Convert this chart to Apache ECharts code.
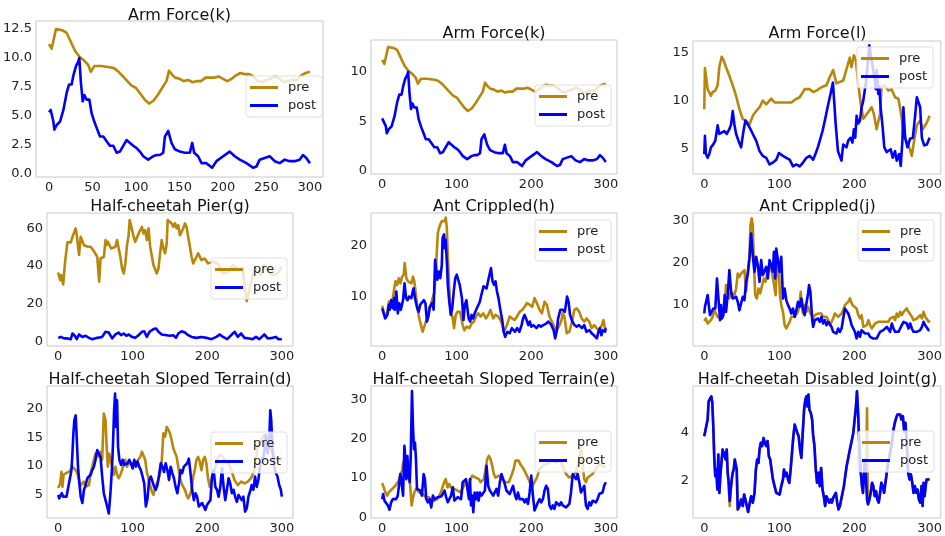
<!DOCTYPE html>
<html><head><meta charset="utf-8">
<script src="https://cdn.jsdelivr.net/npm/echarts@6/dist/echarts.min.js"></script>
<style>html,body{margin:0;padding:0;background:#fff}#c{width:945px;height:536px}</style>
</head><body><div id="c"></div>
<script>
// ---------- tick labels ----------
const xTicksFine = [0, 50, 100, 150, 200, 250, 300];
const xTicks = [0, 100, 200, 300];
const yTicksArmK1 = [0, 2.5, 5, 7.5, 10, 12.5];
const yTicksArmK2 = [0, 5, 10];
const yTicksArmL = [5, 10, 15];
const yTicksPier = [0, 20, 40, 60];
const yTicksAntH = [10, 20];
const yTicksAntJ = [10, 20, 30];
const yTicksSlopeD = [5, 10, 15, 20];
const yTicksSlopeE = [0, 10, 20, 30];
const yTicksJoint = [2, 4];
const seriesNames = ['pre', 'post'];

// ---------- data: [step, value] ----------
const armK_pre = [[0,11.2],[3,10.8],[8,12.5],[15,12.4],[20,12.2],[25,11.4],[30,10.6],[35,10.1],[40,9.8],[45,9.4],[48,8.8],[52,9.3],[60,9.3],[70,9.2],[75,9.1],[80,8.8],[85,8.4],[90,8.0],[95,7.6],[100,7.4],[105,6.9],[110,6.4],[115,6.05],[120,6.3],[125,6.8],[130,7.4],[135,8.0],[138,8.9],[142,8.5],[145,8.3],[150,8.2],[155,8.0],[160,8.1],[165,7.9],[170,8.0],[175,8.0],[180,8.3],[185,8.3],[190,8.3],[195,8.4],[200,8.2],[205,8.0],[210,8.2],[215,8.5],[220,8.7],[225,8.6],[230,8.6],[235,8.4],[240,8.0],[245,7.9],[250,8.1],[255,8.2],[260,8.4],[265,8.2],[270,7.9],[275,8.0],[280,8.1],[285,8.1],[290,8.5],[295,8.7],[300,8.8]];
const armK_post = [[0,5.3],[1.9,5.5],[5,4.5],[6.1,3.8],[8.8,4.2],[12.6,4.5],[16.5,5.5],[20.3,7.0],[23,7.7],[26,7.7],[28,8.5],[31,9.3],[33.7,9.7],[34.8,10.0],[36.7,7.8],[38.7,6.25],[40.6,6.8],[43.2,6.4],[46.3,6.4],[49,5.2],[52,4.5],[55.5,3.8],[58.6,3.2],[62.4,3.2],[66.2,2.8],[70,2.4],[73.9,2.4],[77.7,1.8],[81.5,1.9],[85.3,2.4],[89.2,2.9],[93,2.65],[96.8,2.4],[100.7,2.2],[104.5,1.9],[108.3,1.5],[114,1.2],[119.8,1.5],[123.6,1.6],[127.4,1.6],[131.3,1.8],[133.2,3.2],[137,3.7],[138.9,3.8],[140.8,2.65],[144.7,2.1],[150.4,1.9],[156.1,1.8],[161.9,1.8],[164.6,2.65],[166.9,1.8],[171.4,1.5],[175.3,0.9],[181,0.9],[187.5,0.5],[192.5,1.07],[200.2,1.5],[207.8,1.9],[213.5,1.5],[219.3,1.2],[227,0.9],[234.6,0.5],[238.4,0.6],[242.2,1.2],[248,1.35],[253.7,1.5],[259.5,1.07],[265.2,0.9],[271,1.2],[276.7,1.07],[282.4,1.07],[288.2,1.2],[292,1.6],[295.8,1.35],[300,0.9]];

const armL_pre = [[0,9.1],[0.9,13.4],[4.5,11.2],[6.7,11.05],[8.9,10.5],[11.1,10.9],[14.7,11.05],[17.8,11.6],[20,13.5],[23.2,14.6],[25.9,14.2],[29,13.5],[33.4,12.6],[37.9,11.6],[42.4,10.5],[46.8,9.1],[51.3,8.05],[55.7,7.9],[60.2,7.5],[64.6,8.4],[69.1,8.9],[73.6,9.3],[78,10],[82.5,9.6],[89.2,10.2],[93.6,9.8],[100.3,9.8],[109.2,9.8],[115.9,9.8],[122.6,10.2],[127.1,10.35],[133.7,11.2],[140.4,11.2],[144.9,10.9],[149.4,11.05],[156,11.4],[162.7,11.6],[167.2,12.5],[171.6,13.2],[176,11.8],[185,12.1],[191.6,13.9],[193.8,14.5],[196,13.5],[199.2,14.75],[201.8,14.2],[205,11.8],[208.3,9.65],[211.8,8.1],[218.4,8.8],[222.8,9.3],[225.8,8.6],[229.5,7.0],[231.7,6.85],[233.9,8.6],[236.1,11.4],[240.5,11.6],[245,11.05],[249.4,11.2],[254,10.35],[258.5,10.2],[261.6,8.8],[265,7.0],[268.7,5.8],[271.8,5.4],[276.3,4.2],[279.4,5.8],[283,7.4],[287.4,7.9],[291,7.0],[296.4,7.7],[300,8.4]];
const armL_post = [[0,4.4],[0.9,6.3],[2.2,4.4],[4.5,4.0],[6.7,4.4],[8.9,5.1],[12,5.4],[14.7,5.8],[17.8,7.4],[20,6.5],[22.3,6.7],[26.7,6.8],[29.9,6.5],[33.4,7.0],[35.7,7.5],[37.9,8.9],[40.1,7.5],[42.4,6.5],[45.5,5.8],[49,5.1],[52.2,6.8],[54.8,7.9],[58,7.5],[61.5,7.0],[64.6,6.5],[69.1,5.8],[73.6,4.7],[78,4.2],[82.5,4.0],[86.9,3.3],[91.4,3.5],[95.9,3.8],[99.4,4.5],[104.8,4.2],[109.2,4.0],[113.7,3.8],[118.1,3.1],[122.6,3.3],[127.1,3.1],[131.5,3.5],[136,4.0],[140.4,4.2],[144.9,3.8],[148.5,4.5],[151.6,5.2],[153.8,5.8],[157.4,6.8],[160.5,7.9],[165,9.6],[168.1,10.7],[171.3,11.9],[175,7.5],[178,4.7],[182.7,3.7],[185,5.4],[189.4,5.1],[191.6,5.8],[194.7,6.1],[197.3,5.6],[199.2,7.0],[201,6.1],[202.8,8.4],[205,7.6],[207.3,7.9],[209.5,9.3],[211.7,10],[215.2,11.9],[217,13.35],[219.7,15.8],[222.8,14.2],[225.8,12.8],[228.3,11.2],[229.5,13.2],[231.7,10.7],[233,11.5],[234.8,9.3],[237.5,7.2],[239.7,5.1],[243,4.6],[245,4.7],[248.2,4.9],[250.9,4.0],[254,4.7],[256.3,3.7],[259.4,4.4],[261.6,3.15],[263.8,5.8],[265.1,9.3],[267.4,6.1],[270.5,5.1],[274,6.0],[277.7,6.1],[280.7,8.4],[283,10.35],[285.2,10.5],[287.4,9.3],[289.7,6.1],[292.8,5.3],[296.4,5.4],[300,6.1]];

const pier_pre = [[0,36.6],[2.7,32.6],[4,35.2],[6.7,30.3],[9.3,42.3],[12.4,52.5],[16.9,52.5],[20,56.3],[23.5,59.9],[24.9,56.3],[28,45.8],[30.2,55.5],[34.6,51],[39.9,50.2],[43.5,50.2],[47,48.4],[52.4,44.9],[55,31.7],[56.8,44],[61.3,44.9],[63.5,53.7],[64.8,51],[66.6,52.8],[71,49.3],[76.8,50.2],[79,53.7],[81.2,52.8],[83.4,44.9],[85.7,38.7],[87.9,36.1],[90.1,41.4],[92.3,51],[94.5,56.3],[95.9,64.3],[97.6,61.6],[101.2,55.5],[103.4,52.8],[107.9,57.2],[112.3,60.7],[114.5,57.2],[116.7,59],[119,53.7],[121.2,59.9],[123.4,50.2],[127.8,40.5],[132.3,36.1],[134.5,38.7],[136.7,46.7],[138.9,53.7],[141.1,49.3],[143.4,46.7],[145.6,51.9],[146.9,64.3],[152.2,62.5],[154.5,60.7],[156.7,62.5],[158.9,59.9],[161.1,61.6],[163.3,56.3],[167.8,59.9],[170,62.5],[172.2,60.7],[174.4,55.5],[176.7,50.2],[178.9,44.9],[181.1,41.4],[185.5,44.9],[187.8,46.7],[192.2,43.1],[196.6,44],[201.1,41.4],[207.7,42.3],[214.4,41.4],[221,36.1],[227.7,36.6],[234.4,40.5],[243.2,37.9],[247.7,38.7],[249.9,29.9],[253,21.5],[255.7,26.4],[258.8,31.7],[263.2,38.7],[267.7,37.9],[272.1,35.2],[276.5,40.5],[281,37],[287.6,35.2],[294.3,36.1],[300,39.6]];
const pier_post = [[0,2.1],[3.6,2.6],[8,1.8],[10.2,1.4],[12.4,1.8],[16.9,1.4],[19.1,4.4],[22.2,3.2],[24.9,1.4],[28,3.9],[32.4,2.6],[36.8,3.2],[41.3,2.1],[45.7,1.4],[52.4,2.1],[59,2.6],[63.5,5.3],[67.9,4.9],[72.4,1.8],[76.8,3.9],[81.2,4.9],[84.3,3.5],[87.9,4.4],[91.4,3.2],[94.5,3.9],[99,2.6],[103.4,2.1],[107.9,3.5],[112.3,5.3],[115.4,5.6],[118.9,2.6],[122.5,5.3],[127.8,6.7],[131.4,7.0],[134.5,5.3],[138.9,3.9],[145.6,3.5],[150,3.2],[154.5,3.5],[158,2.1],[161.1,4.4],[165.6,5.6],[170,4.9],[174.4,3.5],[178.9,2.6],[185.5,2.1],[192.2,2.6],[198.8,2.1],[205.5,1.4],[212.2,2.6],[216.6,3.9],[221,2.6],[226.8,1.4],[232.1,3.5],[236.6,5.3],[241,2.6],[245.4,4.4],[249.9,2.1],[256.5,1.8],[261,1.4],[265.4,2.6],[269.9,1.4],[276.5,3.9],[281,1.8],[287.6,2.1],[292.1,2.6],[295.7,1.4],[300,1.4]];

const antH_pre = [[0,8.2],[2.2,7.0],[4.4,6.1],[6.7,6.7],[8.9,9.0],[11.1,9.3],[13.3,8.7],[15.6,11],[17.8,13],[20,12.3],[22.2,13.6],[24.4,12.6],[26.7,13.9],[28.9,14.3],[30.2,16.6],[32.4,13.6],[34.7,13],[36.9,13.3],[39.1,12.6],[41.3,13.9],[43.1,13],[45.3,10.3],[47.6,7.4],[49.8,5.7],[52,4.4],[54.2,3.1],[56.4,4.1],[58.7,5.1],[60.9,6.1],[63.1,7.7],[65.3,8.4],[67.6,9.7],[69.8,10.7],[72,14.6],[73.3,18.9],[74.7,22.5],[76.4,23.5],[77.8,24.1],[80,24.8],[82.2,24.5],[84,24.8],[85.3,25.5],[86.7,23.5],[88,18.2],[89.8,12.3],[92,7.0],[94.2,6.1],[96.4,3.8],[98.7,6.4],[100.9,7.0],[104.4,7.0],[108,4.4],[110.2,3.4],[113.3,4.1],[116.9,3.8],[120,4.7],[123.1,5.1],[125.8,6.1],[128.9,6.7],[132,6.1],[135.6,6.7],[139.1,5.7],[142.2,6.4],[145.3,7.4],[148.9,5.7],[152,6.4],[155.6,6.1],[158.7,5.4],[161.3,4.4],[163.1,3.1],[165.8,3.8],[168.9,5.1],[171.1,6.1],[174.2,5.7],[177.8,5.4],[180.9,6.1],[184.4,7.0],[188,7.4],[191.1,8.0],[194.2,8.7],[197.8,8.4],[201.3,8.0],[204.4,9.7],[207.6,8.7],[211.1,7.4],[214.2,6.7],[217.8,9.0],[220.9,8.4],[224.4,6.1],[226.7,5.4],[229.8,4.4],[233.3,3.1],[236.9,4.1],[240,5.1],[242.2,6.7],[244.4,6.1],[247.6,2.8],[251.1,3.1],[254.7,5.1],[257.8,7.4],[260.9,7.7],[264.4,7.0],[267.6,5.7],[271.1,5.1],[274.2,5.7],[277.8,5.1],[280.9,3.8],[284.4,4.4],[287.6,3.8],[291.1,3.4],[294.7,4.4],[296.9,5.4],[298.7,3.8],[300,4.1]];
const antH_post = [[0,7.7],[2,6.7],[4,5.7],[7,6.4],[9,8.4],[10,7.4],[12,9.3],[14,7.7],[16,9.7],[17,7.4],[19,11],[21,6.7],[23,8.7],[25,7.4],[28,9.3],[30,12.6],[32,9.7],[34,9.3],[36,10],[39,9.7],[41,11],[42,11.6],[44,9.7],[47,7.7],[49,7.0],[51,8.4],[53,8.7],[56,9.3],[58,8.7],[60,5.1],[62,6.1],[64,8.0],[67,8.7],[69,7.4],[71,17.2],[72,15.9],[74,13.3],[76,14.9],[78,13.6],[80,16.2],[81,21.5],[83,22.2],[84,19.5],[85,21.2],[87,16.2],[88,12.3],[90,9.0],[92,6.4],[94,7.7],[96,11],[98,13.6],[100,14.3],[102,13.3],[104,12.3],[107,9.7],[109,5.4],[111,8.4],[113,9.3],[116,5.7],[118,5.1],[120,6.4],[122,5.7],[124,6.7],[127,7.7],[129,7.4],[131,9.0],[133,10.3],[136,12],[138,12.3],[140,11.6],[142,13],[144,14.3],[146,15.6],[148,13],[150,12.3],[152,13],[154,11],[156,9.7],[159,7.0],[161,5.4],[163,3.1],[165,2.1],[168,3.1],[171,2.8],[174,3.8],[178,3.1],[181,3.8],[184,3.1],[187,4.4],[189,5.7],[191,6.4],[193,5.7],[196,4.4],[198,5.1],[200,4.1],[203,4.4],[207,3.8],[210,4.4],[213,4.1],[216,4.4],[220,4.7],[223,5.1],[227,4.4],[230,3.4],[232,1.8],[234,3.1],[236,5.7],[239,7.4],[242,7.4],[245,7.0],[248,10],[250,9.0],[252,6.4],[255,5.1],[258,4.4],[261,4.1],[264,4.4],[268,3.8],[271,4.4],[274,3.1],[278,3.4],[281,2.8],[284,2.4],[288,1.8],[290,3.1],[292,3.8],[294,2.4],[296,3.4],[299,3.1],[300,3.8]];

const antJ_pre = [[0,6.0],[2.2,6.6],[4.5,5.4],[6.7,5.0],[8.9,6.2],[11.1,7.0],[13.4,8.6],[15.6,7.8],[17.8,7.0],[20.1,7.4],[22.3,6.6],[24.5,7.0],[26.7,8.2],[29,14.6],[31.2,13],[33.4,11.4],[35.7,13],[37.9,12.6],[40.1,12.2],[42.4,13.8],[44.6,17.4],[46.8,16.6],[49,17.4],[51.3,17.8],[53.5,18.2],[55.7,13],[58,17.8],[60.2,21.8],[61.5,29],[63.3,30.6],[64.6,29],[66,20.2],[67.8,12.2],[70,11.4],[72.2,13.8],[74.4,12.6],[77.1,14.6],[79.4,16.2],[81.6,15.4],[83.8,17.4],[86,17],[88.3,19],[90.5,17.4],[92.7,17],[95,12.2],[97.2,21.4],[99,19.4],[100.8,12.2],[102.5,9.8],[104.8,8.2],[107,5.0],[109.2,4.2],[111.5,5.0],[113.7,5.8],[115.9,7.0],[118.1,6.6],[120.4,7.0],[122.6,6.6],[124.8,8.2],[127.1,10.6],[128.4,13],[130.2,9],[131.5,7.8],[133.7,9.8],[136,8.2],[138.2,9.4],[140.4,8.2],[142.7,7.8],[144.9,6.6],[147.1,7.4],[149.3,7.0],[151.6,7.8],[153.8,8.2],[156,7.8],[158.3,7.0],[160.5,7.0],[162.7,7.0],[164.9,6.2],[167.2,5.0],[169.4,5.8],[171.6,6.6],[173.9,7.8],[176.1,8.2],[178.3,7.0],[180.6,7.4],[182.8,7.8],[185,8.6],[187.2,9.8],[189.5,10.2],[191.7,10.6],[193.9,11.4],[195.3,11.8],[197.5,9.8],[199.7,10.2],[202.8,9.0],[205.1,7.4],[207.3,6.6],[209.5,7.4],[211.8,4.6],[214,4.2],[216.2,5.0],[218.5,6.2],[220.7,5.0],[222.9,4.2],[225.1,4.6],[227.4,5.4],[229.6,5.0],[231.8,5.8],[234.1,5.4],[236.3,5.8],[238.5,5.4],[240.7,5.8],[243,6.2],[245.2,5.8],[247.4,6.6],[249.7,6.2],[251.9,7.0],[254.1,6.2],[256.3,7.8],[258.6,7.0],[260.8,8.2],[263,7.4],[265.3,8.2],[267.5,7.8],[269.7,9.0],[271.9,8.2],[274.2,7.8],[276.4,7.0],[278.6,6.2],[280.9,5.8],[283.1,6.6],[285.3,7.0],[287.5,7.4],[289.8,6.6],[292,8.2],[294.2,7.0],[296.5,6.6],[298.7,5.8],[300,6.2]];
const antJ_post = [[0,7.8],[0.9,9.4],[2.2,9],[4.5,12.2],[5.8,11.8],[7.6,7.4],[9.8,7.8],[12,9],[14.7,9],[16.9,16.2],[19.2,10.6],[21,6.2],[22.3,9.8],[23.6,6.6],[25.4,7.4],[27.2,12.2],[29,8.2],[31.2,12.2],[33.4,18.2],[35.7,13],[37.9,11.4],[40.1,11],[42.4,11.8],[44.6,10.6],[46.8,8.6],[49,10.2],[51.3,11.8],[53.5,11],[55.7,15.4],[58,17.4],[60.2,21],[62.4,27],[64.6,21.8],[66.9,17.8],[69.1,21.4],[71.3,19.4],[73.6,15.4],[75.8,20.6],[78,17],[80.2,16.6],[82.5,19],[84.7,16.2],[86.9,20.6],[89.2,19.4],[91.4,17.8],[92.7,22.6],[94.5,16.2],[95.8,23.4],[98.1,23.8],[100.3,17.8],[102.5,21.4],[104.8,11.4],[107,13.8],[109.2,11],[111.5,9.8],[113.7,9],[115.9,7.8],[118.1,9],[120.4,7],[122.6,8.6],[124.8,10.6],[127.1,9.4],[129.3,11.4],[131.5,9],[133.7,7.4],[136,10.2],[138.2,12.6],[139.5,14.6],[141.3,13],[143.6,6.6],[144.9,4.6],[147.1,6.2],[149.3,5.8],[151.6,6.6],[153.8,5.8],[156,7],[158.3,5.4],[160.5,6.2],[162.7,5],[164.9,5.8],[167.2,5.4],[169.4,4.6],[171.6,3.4],[173.9,3.8],[176.1,3],[178.3,4.2],[180.6,3.4],[182.8,4.2],[185,6.6],[187.2,9],[189.5,8.6],[191.7,7.8],[193.9,6.6],[196.2,5],[198.4,4.2],[200.6,3.4],[202.8,1.8],[205.1,3.4],[207.3,2.2],[209.5,3.8],[211.8,3.4],[214,3],[216.2,2.6],[218.5,3],[220.7,2.2],[222.9,2.6],[225.1,1.8],[227.4,2.2],[229.6,1.8],[231.8,2.6],[234.1,3.4],[236.3,3],[238.5,3.8],[240.7,4.2],[243,4.6],[245.2,4.2],[247.4,3.4],[249.7,5.4],[251.9,4.2],[254.1,3.4],[256.3,3.8],[258.6,3.4],[260.8,4.2],[263,5],[265.3,5.8],[267.5,6.2],[269.7,5.4],[271.9,4.2],[274.2,5.4],[276.4,4.2],[278.6,3.4],[283.1,3.4],[287.5,3.8],[289.8,4.6],[292,5.8],[294.2,5],[296.5,5.4],[298.7,3.8],[300,3.8]];

const slopeD_pre = [[0,6.2],[1.3,5.9],[2.7,7.0],[4.4,9.0],[5.8,6.4],[7.1,8.5],[8.9,8.2],[10.7,8.8],[12.4,8.5],[14.6,9.0],[16.9,9.3],[19.1,9.9],[21.3,10.2],[23.5,9.3],[25.7,8.8],[28,7.6],[30.2,6.7],[32.4,7.0],[34.6,7.3],[36.8,6.4],[39.1,6.2],[41.3,6.7],[43.5,8.8],[45.7,9.9],[47.9,11.1],[50.1,12.2],[52.4,12.5],[54.6,11.6],[56.8,12.5],[59,11.1],[61.2,19.1],[63.5,18],[64.8,13.9],[66.6,9.9],[68.3,12.2],[70.1,11.1],[72.3,9.9],[74.6,8.5],[76.8,9.9],[79,8.5],[81.2,7.9],[83.4,8.5],[85.7,9.3],[87.9,10.5],[90.1,11.1],[92.3,9.9],[94.5,10.5],[96.7,10.8],[99,10.2],[101.2,9.9],[103.4,10.2],[105.6,10.8],[107.8,11.1],[110.1,11.6],[112.3,12.5],[114.5,12.2],[116.7,11.1],[118.9,9.0],[121.2,7.9],[123.4,6.7],[125.6,5.6],[127.8,5.0],[130,6.2],[132.3,7.0],[134.5,7.6],[136.7,8.8],[138.9,10.8],[141.1,15.7],[143.3,15.1],[145.6,16.8],[147.8,16.3],[150,15.7],[152.2,14.5],[154.4,13.1],[156.7,12.8],[158.9,11.6],[161.1,9.9],[163.3,7.9],[165.5,7.0],[167.8,6.4],[170,5.9],[172.2,5.0],[174.4,4.4],[176.6,5.0],[178.9,5.9],[181.1,8.2],[183.3,9.3],[185.5,11.1],[187.7,11.6],[189.9,10.8],[192.2,9.3],[194.4,11.1],[196.6,11.6],[198.8,10.5],[201,7.9],[203.3,6.4],[205.5,7.6],[209.9,9.3],[214.4,11.6],[218.8,11.9],[223.2,11.1],[227.7,10.8],[232.1,9.3],[236.5,7.6],[241,6.7],[245.4,7.3],[249.9,7.0],[254.3,7.3],[258.7,7.9],[263.2,9.3],[267.6,13.4],[272.1,14.5],[276.5,15.4],[280.9,14.5],[285.4,12.8],[289.8,11.6],[294.2,11.1],[300,11.1]];
const slopeD_post = [[0,5.0],[1.3,4.4],[3.6,4.7],[4.9,5.3],[6.7,4.7],[8.9,5.0],[11.1,4.7],[13.3,6.2],[15.5,6.4],[17.8,9.3],[19.1,12.2],[20.4,15.7],[21.7,18],[23.5,18.8],[24.9,18.6],[26.6,9.9],[28.4,7.0],[30.2,4.7],[32.4,3.6],[34.6,5.9],[36.8,6.7],[39.1,7.9],[41.3,8.2],[43.5,8.5],[45.7,9.3],[47.9,9.9],[50.1,11.1],[52.4,12.8],[54.6,12.2],[56.8,11.6],[59,8.2],[61.2,5.3],[63.5,4.1],[65.7,3.0],[67.9,1.8],[70.1,5.3],[72.3,9.9],[73.7,14.5],[75,19.7],[76.3,22.6],[77.7,16.8],[79,21.4],[80.3,13.4],[82.1,11.1],[84.3,10.2],[86.5,11.1],[88.8,10.2],[91,9.9],[93.2,10.5],[95.4,11.1],[97.6,10.5],[99.9,9.6],[102.1,11.1],[104.3,9.9],[106.5,10.8],[108.7,9.9],[110.9,9.3],[113.2,8.2],[115.4,7.0],[117.6,3.0],[119.8,4.4],[122,7.6],[124.3,8.2],[126.5,7.3],[128.7,6.4],[130.9,5.9],[133.1,6.7],[135.4,8.5],[137.6,10.5],[139.8,9.9],[142,9.0],[144.2,10.5],[146.5,9.3],[148.7,7.6],[150.9,9.9],[153.1,8.8],[155.3,7.9],[157.5,6.4],[159.8,5.3],[162,7.0],[164.2,9.3],[166.4,8.8],[168.6,9.9],[170.9,9.9],[173.1,10.5],[175.3,11.3],[177.5,8.8],[179.7,5.9],[182,4.1],[184.2,5.3],[186.4,4.7],[188.6,3.0],[190.8,2.7],[193.1,3.6],[195.3,3.0],[197.5,2.4],[199.7,3.3],[201.9,3.0],[204.2,4.1],[206.4,8.2],[208.6,9.3],[210.8,6.4],[213,5.9],[215.2,4.7],[217.5,6.4],[219.7,9.6],[221.9,6.4],[224.1,4.1],[226.3,5.9],[228.6,7.9],[230.8,7.0],[233,5.3],[235.2,5.9],[237.4,4.7],[239.7,3.8],[241.9,5.0],[244.1,4.7],[246.3,4.1],[248.5,4.7],[250.7,2.1],[253,2.7],[255.2,4.7],[257.4,5.6],[259.6,6.7],[261.8,5.9],[264.1,8.2],[266.3,6.4],[268.5,7.6],[270.7,9.9],[272.9,11.1],[275.2,11.6],[277.4,13.4],[278.7,15.4],[280.9,12.2],[283.2,14.5],[284.5,19.7],[285.8,18],[287.6,12.8],[289.8,9.9],[292,8.8],[294.2,8.2],[296.5,6.7],[298.7,5.9],[300,4.7]];

const slopeE_pre = [[0,8.7],[2.2,8.5],[4.4,6.3],[6.7,5.5],[8.9,6.3],[11.1,6.8],[13.3,7.2],[15.6,7.6],[17.8,8.0],[20,8.5],[22.2,9.3],[24.4,11],[26.7,11.8],[28,13.9],[29.8,11.8],[31.6,14.4],[33.3,10.6],[35.1,13.1],[36.9,9.7],[38.2,6.3],[39.6,3.0],[40.9,4.6],[43.1,6.3],[45.3,7.2],[47.6,6.8],[49.8,6.3],[52,5.9],[54.2,5.9],[56.4,5.5],[58.7,5.1],[60.9,4.8],[63.1,5.1],[65.3,4.2],[67.6,4.6],[69.8,4.2],[72,4.6],[74.2,4.6],[76.4,5.1],[78.7,6.3],[80.9,7.6],[83.1,8.9],[85.3,9.7],[87.6,7.6],[89.8,8.5],[92,7.6],[94.2,8.0],[96.4,7.2],[98.7,7.6],[100.9,6.8],[103.1,7.2],[105.3,6.3],[107.6,6.8],[109.8,8.0],[112,8.9],[114.2,9.3],[116.4,8.5],[118.7,9.7],[120.9,10.6],[123.1,11],[125.3,10.1],[127.6,10.6],[129.8,9.7],[132,8.9],[134.2,9.3],[136.4,9.7],[138.7,12.3],[140.9,14.8],[143.1,15.6],[145.3,14.8],[147.6,13.1],[149.8,11],[152,10.1],[154.2,9.7],[156.4,10.6],[158.7,10.1],[160.9,9.7],[163.1,9.3],[165.3,8.9],[167.6,8.9],[169.8,8.9],[172,9.3],[174.2,11],[176.4,12.3],[178.7,14.4],[180.9,13.9],[183.1,14.4],[185.3,13.5],[187.6,13.1],[189.8,12.3],[192,11.4],[194.2,11],[196.4,9.7],[198.7,8.5],[200.9,7.6],[203.1,8.5],[205.3,9.3],[207.6,10.1],[211.1,12.3],[215.6,13.1],[220,13.5],[224.4,13.9],[228.9,14.4],[233.3,13.9],[237.8,14.4],[242.2,13.1],[246.7,11],[251.1,10.1],[255.6,10.6],[260,11.4],[264.4,14.8],[266.7,17.7],[268.9,13.1],[271.1,9.7],[273.3,8.9],[275.6,10.1],[277.8,10.6],[282.2,11],[286.7,12.3],[291.1,13.5],[295.6,13.1],[300,12.7]];
const slopeE_post = [[0,4.6],[1.3,5.9],[3.1,4.2],[5.3,4.6],[7.6,3.0],[9.8,1.9],[12,3.8],[14.2,4.6],[16.4,5.1],[18.7,4.6],[20.9,5.5],[23.1,5.1],[24.4,11],[26.2,8.5],[28,5.5],[29.8,18.2],[31.1,14.8],[32.4,9.7],[33.8,15.6],[35.1,11.4],[36.9,8.9],[38.2,14.8],[40,32.1],[41.3,23.2],[42.7,17.3],[44,19],[45.3,14.8],[46.7,7.2],[48.9,7.6],[51.1,6.8],[53.3,5.5],[55.6,11],[57.3,9.7],[59.1,4.6],[61.3,3.8],[63.6,4.6],[65.8,2.5],[68,5.5],[70.2,4.6],[72.4,5.1],[74.7,5.1],[76.9,5.5],[79.1,5.3],[81.3,5.9],[83.6,6.8],[85.8,5.1],[88,3.8],[90.2,4.2],[92.4,5.5],[94.7,7.6],[96.9,4.2],[99.1,3.8],[101.3,5.1],[103.6,5.5],[105.8,4.6],[108,8.9],[110.2,9.3],[112.4,9.7],[114.7,10.1],[116.4,4.6],[117.8,9.7],[119.1,3.0],[120.9,5.5],[122.2,1.3],[124,6.3],[125.8,4.6],[127.6,6.3],[129.3,4.2],[131.1,6.3],[133.3,5.5],[135.6,5.1],[137.8,6.8],[140,13.1],[142.2,8.0],[144.4,6.8],[146.7,6.3],[148.9,5.5],[151.1,5.9],[153.3,7.2],[155.6,5.5],[157.8,8.9],[160,11],[162.2,10.6],[164.4,8.5],[166.7,6.8],[168.9,7.2],[171.1,5.9],[173.3,6.3],[175.6,8.0],[177.8,5.9],[180,4.6],[182.2,6.3],[184.4,4.6],[186.7,4.2],[188.9,4.6],[191.1,3.8],[193.3,4.6],[195.6,3.4],[197.8,6.3],[200,10.6],[202.2,5.5],[204.4,1.7],[206.7,1.3],[208.9,3.8],[211.1,4.6],[213.3,3.8],[215.6,4.6],[217.8,6.8],[220,8.0],[222.2,7.2],[224.4,3.0],[226.7,2.1],[228.9,3.0],[231.1,2.1],[233.3,3.8],[235.6,4.2],[237.8,3.0],[240,3.8],[242.2,3.0],[244.4,3.4],[246.7,2.5],[248.9,3.0],[251.1,3.4],[253.3,6.3],[255.6,11],[257.8,11.4],[260,9.7],[262.2,11],[264.4,8.9],[266.7,6.3],[268.9,6.8],[271.1,8.0],[273.3,3.0],[275.6,2.1],[277.8,3.8],[280,3.0],[282.2,4.2],[284.4,4.2],[286.7,3.8],[288.9,4.6],[291.1,5.9],[293.3,5.5],[295.6,6.3],[297.8,8.0],[300,8.9]];

const joint_pre = [[0,3.83],[1.3,4.04],[3.1,4.11],[4.5,4.53],[5.8,5.29],[7.6,5.36],[9.4,5.5],[10.7,5.22],[12,4.25],[13.4,2.86],[14.7,2.17],[16.1,2.44],[17.4,1.61],[18.7,3.07],[20.1,1.47],[21.4,2.17],[23.2,2.86],[24.5,3.28],[25.9,3.0],[27.2,3.14],[28.5,2.86],[29.9,3.28],[31.2,2.31],[32.5,1.89],[33.9,0.92],[35.2,1.61],[36.6,2.03],[37.9,2.31],[39.2,2.44],[40.6,2.86],[41.9,2.93],[43.2,2.44],[44.6,0.78],[46.8,0.92],[49,1.19],[51.3,0.92],[53.1,1.4],[54.8,1.19],[56.6,0.92],[58.4,0.67],[60.2,0.99],[62.4,1.33],[64.6,1.06],[66.9,1.47],[68.7,2.44],[70.4,2.86],[72.2,2.72],[73.6,3.28],[75.3,3.56],[77.1,3.42],[78.9,3.76],[80.7,3.56],[82.5,3.42],[84.3,3.63],[86,3.0],[87.8,2.86],[89.6,2.44],[91.4,2.03],[93.6,1.75],[95.9,1.47],[98.1,1.47],[100.3,1.4],[102.5,1.75],[104.8,2.03],[106.1,2.44],[107.9,2.17],[109.7,2.31],[111.5,2.03],[113.2,1.89],[115,2.44],[116.8,3.14],[118.6,3.83],[120.4,4.32],[122.2,4.39],[123.9,3.97],[125.7,3.83],[127.5,3.28],[129.3,2.93],[131.1,3.97],[132.9,4.94],[134.6,5.36],[136,5.5],[137.3,5.08],[138.7,5.57],[140,4.94],[141.8,4.81],[143.6,4.53],[144.9,3.9],[146.7,3.42],[148.5,2.44],[150.2,1.89],[152,2.31],[153.8,1.75],[155.6,2.51],[157.4,1.61],[159.2,1.33],[160.9,0.92],[162.7,1.33],[164.5,1.19],[166.3,1.06],[168.1,1.19],[169.9,1.06],[171.6,1.26],[173.4,1.19],[175.2,1.47],[177,1.06],[178.8,0.78],[180.6,0.92],[182.3,1.19],[184.1,1.47],[185.9,1.75],[187.7,2.17],[189.5,2.58],[191.3,2.86],[193,3.14],[194.8,3.42],[196.6,3.69],[198.4,3.97],[200.2,4.53],[202,5.08],[203.3,5.71],[204.6,4.94],[206,3.83],[207.3,2.86],[208.6,2.24],[210,1.75],[211.3,1.47],[212.7,2.31],[214,2.86],[215.3,2.03],[216.7,5.0],[218,0.99],[219.8,1.19],[221.6,1.47],[223.4,1.89],[225.1,1.75],[226.9,1.33],[228.7,1.54],[230.5,1.19],[232.3,1.06],[234.1,1.47],[235.8,1.89],[237.6,1.75],[239.4,1.47],[241.2,1.89],[243,2.31],[244.8,2.72],[246.5,3.0],[248.3,3.28],[250.1,3.63],[251.9,4.11],[253.7,4.39],[255.5,4.6],[257.2,4.74],[259,4.67],[260.8,4.74],[262.6,4.53],[264.4,4.67],[266.2,4.04],[267.9,4.39],[269.7,3.42],[271.5,2.31],[273.3,2.03],[275.1,2.24],[276.9,1.89],[278.6,1.47],[280.4,1.75],[282.2,1.47],[284,1.61],[285.8,1.19],[287.6,1.06],[289.3,1.75],[290.7,0.92],[292,1.89],[293.4,1.33],[294.7,1.75],[296,2.03],[297.4,2.1],[298.7,2.03],[300,2.03]];
const joint_post = [[0,3.83],[1.3,4.04],[3.1,4.11],[4.5,4.53],[5.8,5.29],[7.6,5.36],[9.4,5.5],[10.7,5.22],[12,4.25],[13.4,2.86],[14.7,2.17],[16.1,2.44],[17.4,1.61],[18.7,3.07],[20.1,1.47],[21.4,2.17],[23.2,2.86],[24.5,3.28],[25.9,3.0],[27.2,3.14],[28.5,2.86],[29.9,3.28],[31.2,2.31],[32.5,1.89],[33.9,1.13],[35.2,1.61],[36.6,2.03],[37.9,2.31],[39.2,2.44],[40.6,2.86],[41.9,2.93],[43.2,2.44],[44.6,0.78],[46.8,0.92],[49,1.19],[51.3,0.92],[53.1,1.4],[54.8,1.19],[56.6,0.92],[58.4,0.67],[60.2,0.99],[62.4,1.33],[64.6,1.06],[66.9,1.47],[68.7,2.44],[70.4,2.86],[72.2,2.72],[73.6,3.28],[75.3,3.56],[77.1,3.42],[78.9,3.76],[80.7,3.56],[82.5,3.42],[84.3,3.63],[86,3.0],[87.8,2.86],[89.6,2.44],[91.4,2.03],[93.6,1.75],[95.9,1.47],[98.1,1.47],[100.3,1.4],[102.5,1.75],[104.8,2.03],[106.1,2.44],[107.9,2.17],[109.7,2.31],[111.5,2.03],[113.2,1.89],[115,2.44],[116.8,3.14],[118.6,3.83],[120.4,4.32],[122.2,4.39],[123.9,3.97],[125.7,3.83],[127.5,3.28],[129.3,2.93],[131.1,3.97],[132.9,4.94],[134.6,5.36],[136,5.5],[137.3,5.08],[138.7,5.57],[140,4.94],[141.8,4.81],[143.6,4.53],[144.9,3.9],[146.7,3.42],[148.5,2.44],[150.2,1.89],[152,2.31],[153.8,1.75],[155.6,2.51],[157.4,1.61],[159.2,1.33],[160.9,0.92],[162.7,1.33],[164.5,1.19],[166.3,1.06],[168.1,1.19],[169.9,1.06],[171.6,1.26],[173.4,1.19],[175.2,1.47],[177,1.06],[178.8,0.78],[180.6,0.92],[182.3,1.19],[184.1,1.47],[185.9,1.75],[187.7,2.17],[189.5,2.58],[191.3,2.86],[193,3.14],[194.8,3.42],[196.6,3.69],[198.4,3.97],[200.2,4.53],[202,5.08],[203.3,5.71],[204.6,4.94],[206,3.83],[207.3,2.86],[208.6,2.24],[210,1.75],[211.3,1.47],[212.7,2.31],[214,2.86],[215.3,2.03],[216.7,1.19],[218,0.99],[219.8,1.19],[221.6,1.47],[223.4,1.89],[225.1,1.75],[226.9,1.33],[228.7,1.54],[230.5,1.19],[232.3,1.06],[234.1,1.47],[235.8,1.89],[237.6,1.75],[239.4,1.47],[241.2,1.89],[243,2.31],[244.8,2.72],[246.5,3.0],[248.3,3.28],[250.1,3.63],[251.9,4.11],[253.7,4.39],[255.5,4.6],[257.2,4.74],[259,4.67],[260.8,4.74],[262.6,4.53],[264.4,4.67],[266.2,4.04],[267.9,4.39],[269.7,3.42],[271.5,2.31],[273.3,2.03],[275.1,2.24],[276.9,1.89],[278.6,1.47],[280.4,1.75],[282.2,1.47],[284,1.61],[285.8,1.19],[287.6,1.06],[289.3,1.75],[290.7,0.92],[292,1.89],[293.4,1.33],[294.7,1.75],[296,2.03],[297.4,2.1],[298.7,2.03],[300,2.03]];

// ---------- layout & style ----------
const GOLD = '#b8860b', BLUE = '#0000ff';
const FONT = 'DejaVu Sans';
const panels = [
  {title:'Arm Force(k)', pre:armK_pre, post:armK_post, g:[36,21,287,156], y:[-0.3,13.2], yt:yTicksArmK1, xt:xTicksFine, tTop:7, lg:[246,76], dec:1},
  {title:'Arm Force(k)', pre:armK_pre, post:armK_post, g:[371,40,246,134], y:[-0.3,13.2], yt:yTicksArmK2, xt:xTicks, tTop:25, lg:[535,85]},
  {title:'Arm Force(l)', pre:armL_pre, post:armL_post, g:[693,41,249,133], y:[2.3,16.25], yt:yTicksArmL, xt:xTicks, tTop:25, lg:[857,47]},
  {title:'Half-cheetah Pier(g)', pre:pier_pre, post:pier_post, g:[47,213,246,133], y:[-2.2,68], yt:yTicksPier, xt:xTicks, tTop:198, lg:[211,258]},
  {title:'Ant Crippled(h)', pre:antH_pre, post:antH_post, g:[371,213,246,133], y:[0.3,26.4], yt:yTicksAntH, xt:xTicks, tTop:198, lg:[535,220]},
  {title:'Ant Crippled(j)', pre:antJ_pre, post:antJ_post, g:[693,213,249,133], y:[0,31.9], yt:yTicksAntJ, xt:xTicks, tTop:198, lg:[858,220]},
  {title:'Half-cheetah Sloped Terrain(d)', pre:slopeD_pre, post:slopeD_post, g:[47,386,246,132], y:[1.0,23.9], yt:yTicksSlopeD, xt:xTicks, tTop:371, lg:[211,432]},
  {title:'Half-cheetah Sloped Terrain(e)', pre:slopeE_pre, post:slopeE_post, g:[371,386,246,132], y:[-0.2,33.4], yt:yTicksSlopeE, xt:xTicks, tTop:371, lg:[535,431]},
  {title:'Half-cheetah Disabled Joint(g)', pre:joint_pre, post:joint_post, g:[693,386,249,132], y:[0.42,5.93], yt:yTicksJoint, xt:xTicks, tTop:371, lg:[858,431]}
];

const option = {
  animation: false,
  backgroundColor: '#ffffff',
  title: panels.map(p => ({
    text: p.title, left: p.g[0] + p.g[2] / 2, top: p.tTop, textAlign: 'center', padding: 0,
    textStyle: {fontSize: 16, fontWeight: 'normal', color: '#111', fontFamily: FONT, lineHeight: 18}
  })),
  grid: panels.map(p => ({
    left: p.g[0], top: p.g[1], width: p.g[2], height: p.g[3],
    show: true, borderColor: '#c8c8c8', borderWidth: 1, backgroundColor: 'transparent', containLabel: false
  })),
  xAxis: panels.map((p, i) => ({
    type: 'value', gridIndex: i, min: -15, max: 315,
    axisLine: {show: false}, axisTick: {show: false}, splitLine: {show: false},
    axisLabel: {customValues: p.xt, fontSize: 13, color: '#222', fontFamily: FONT, margin: 4}
  })),
  yAxis: panels.map((p, i) => ({
    type: 'value', gridIndex: i, min: p.y[0], max: p.y[1],
    axisLine: {show: false}, axisTick: {show: false}, splitLine: {show: false},
    axisLabel: {customValues: p.yt, fontSize: 13, color: '#222', fontFamily: FONT, margin: 4,
      formatter: v => p.dec ? Number(v).toFixed(p.dec) : String(v)}
  })),
  legend: panels.map(p => ({
    data: seriesNames, left: p.lg[0], top: p.lg[1], orient: 'vertical',
    icon: 'rect', itemWidth: 28, itemHeight: 3, itemGap: 5, padding: [5, 6, 5, 4],
    backgroundColor: 'rgba(255,255,255,0.8)', borderColor: '#e0e0e0', borderWidth: 1, borderRadius: 3,
    selectedMode: false,
    textStyle: {fontSize: 13, color: '#222', fontFamily: FONT, padding: [0, 0, 0, 5]}
  })),
  series: []
};
panels.forEach((p, i) => {
  [['pre', p.pre, GOLD], ['post', p.post, BLUE]].forEach(([name, data, color]) => {
    option.series.push({
      type: 'line', name: name, xAxisIndex: i, yAxisIndex: i, data: data,
      symbol: 'none', showSymbol: false, clip: true,
      lineStyle: {width: 2.6, color: color, join: 'round'}, itemStyle: {color: color}
    });
  });
});
const chart = echarts.init(document.getElementById('c'), null, {renderer: 'canvas'});
chart.setOption(option);
</script></body></html>
